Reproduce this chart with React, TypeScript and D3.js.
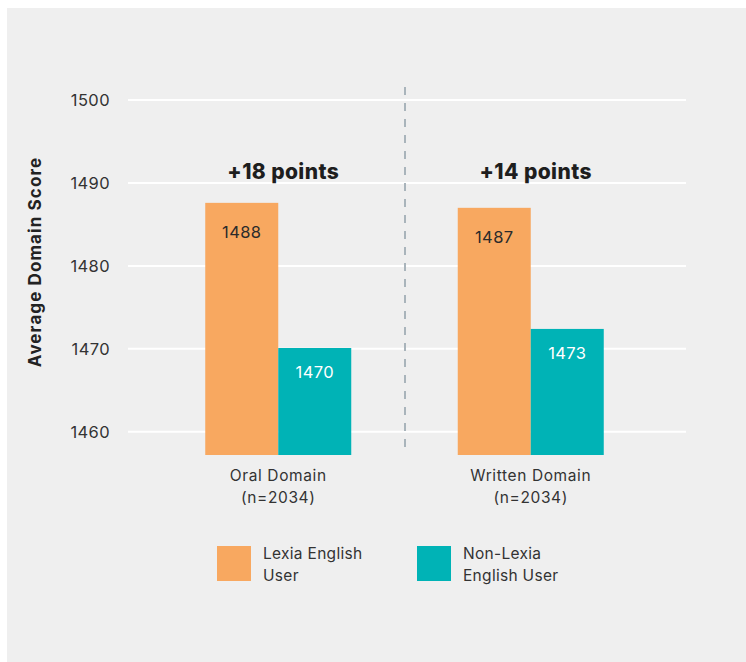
import React from "react";
import * as d3 from "d3";

// values
const domains = ["Oral Domain", "Written Domain"];
const sampleSizes = ["(n=2034)", "(n=2034)"];
const lexiaScores = [1487.6, 1487.0];
const nonLexiaScores = [1470.1, 1472.4];
const lexiaLabels = ["1488", "1487"];
const nonLexiaLabels = ["1470", "1473"];
const gainLabels = ["+18 points", "+14 points"];
const yTicks = [1460, 1470, 1480, 1490, 1500];
const seriesNames = [["Lexia English", "User"], ["Non-Lexia", "English User"]];
const seriesColors = ["#f8a860", "#00b3b6"];

const width = 746;
const height = 662;
const font = "Inter, 'Open Sans', sans-serif";

const App: React.FC = () => {
  const y = d3.scaleLinear().domain([1457.2, 1500]).range([455, 100]);
  const x = d3.scaleBand<string>().domain(domains).range([152, 657]);
  const inner = d3.scaleBand<string>().domain(["lexia", "non"]).range([0, 146]);

  const groupCenter = (d: string) => (x(d) as number) + x.bandwidth() / 2;
  const barX = (d: string, s: string) => groupCenter(d) - 73 + (inner(s) as number);

  return (
    <svg width={width} height={height} style={{ display: "block", position: "absolute", left: 0, top: 0 }}>
      <rect x={7} y={8} width={width - 7} height={height - 8} fill="#efefef" />

      {yTicks.map((t) => (
        <g key={t}>
          <line x1={128} x2={686} y1={y(t)} y2={y(t)} stroke="#ffffff" strokeWidth={2} />
          <text x={110} y={y(t)} dy="0.35em" textAnchor="end" fontFamily={font} fontSize={16.5} letterSpacing={0.4} fill="#333">
            {t}
          </text>
        </g>
      ))}

      <line x1={405} x2={405} y1={87} y2={455} stroke="#a9b4bb" strokeWidth={2} strokeDasharray="8 8" />

      <text
        transform={`translate(41,262) rotate(-90)`}
        textAnchor="middle"
        fontFamily={font}
        fontSize={17}
        fontWeight={700}
        letterSpacing={1.1}
        fill="#222"
      >
        Average Domain Score
      </text>

      {domains.map((d, i) => (
        <g key={d}>
          <rect
            x={barX(d, "lexia")}
            y={y(lexiaScores[i])}
            width={inner.bandwidth()}
            height={y.range()[0] - y(lexiaScores[i])}
            fill={seriesColors[0]}
          />
          <rect
            x={barX(d, "non")}
            y={y(nonLexiaScores[i])}
            width={inner.bandwidth()}
            height={y.range()[0] - y(nonLexiaScores[i])}
            fill={seriesColors[1]}
          />
          <text
            x={barX(d, "lexia") + inner.bandwidth() / 2}
            y={y(lexiaScores[i]) + 35}
            textAnchor="middle"
            fontFamily={font}
            fontSize={16.5}
            letterSpacing={0.4}
            fill="#2b2b2b"
          >
            {lexiaLabels[i]}
          </text>
          <text
            x={barX(d, "non") + inner.bandwidth() / 2}
            y={y(nonLexiaScores[i]) + 30}
            textAnchor="middle"
            fontFamily={font}
            fontSize={16.5}
            letterSpacing={0.4}
            fill="#ffffff"
          >
            {nonLexiaLabels[i]}
          </text>
          <text
            x={groupCenter(d) + 5}
            y={179}
            textAnchor="middle"
            fontFamily={font}
            fontSize={21}
            fontWeight={800}
            letterSpacing={0.4}
            fill="#1e1e1e"
          >
            {gainLabels[i]}
          </text>
          <text x={groupCenter(d)} y={481} textAnchor="middle" fontFamily={font} fontSize={15.5} letterSpacing={0.6} fill="#333">
            {d}
          </text>
          <text x={groupCenter(d)} y={503} textAnchor="middle" fontFamily={font} fontSize={15.5} letterSpacing={0.6} fill="#333">
            {sampleSizes[i]}
          </text>
        </g>
      ))}

      {seriesNames.map((lines, i) => (
        <g key={i} transform={`translate(${217 + i * 200},546)`}>
          <rect width={34} height={35} fill={seriesColors[i]} />
          {lines.map((l, j) => (
            <text key={j} x={46} y={13 + j * 22} fontFamily={font} fontSize={15.5} letterSpacing={0.3} fill="#333">
              {l}
            </text>
          ))}
        </g>
      ))}
    </svg>
  );
};

export default App;
